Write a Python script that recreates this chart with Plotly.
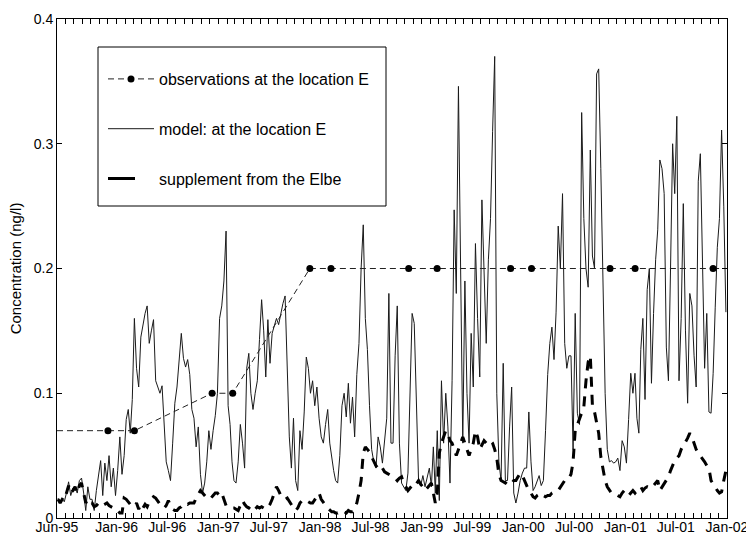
import pandas as pd
import plotly.graph_objects as go

# ---------------- data (ng/l) ----------------
# model at location E: 4 values per month (quarter-month steps), starting Jun-95
model_1995 = [0.016, 0.012, 0.015, 0.013, 0.02, 0.029, 0.018, 0.024, 0.025, 0.02, 0.03, 0.032,
              0.02, 0.006, 0.025, 0.015, 0.015, 0.006, 0.022, 0.035, 0.046, 0.018, 0.044, 0.03,
              0.05, 0.025, 0.04, 0.018]
model_1996 = [0.038, 0.065, 0.035, 0.05, 0.079, 0.087, 0.068, 0.095, 0.16, 0.12, 0.105, 0.145,
              0.155, 0.164, 0.17, 0.14, 0.15, 0.159, 0.11, 0.105, 0.1, 0.106, 0.07, 0.045,
              0.038, 0.03, 0.06, 0.092, 0.105, 0.124, 0.148, 0.128, 0.121, 0.127, 0.115, 0.087,
              0.08, 0.057, 0.073, 0.035, 0.02, 0.028, 0.045, 0.07, 0.055, 0.07, 0.082, 0.1]
model_1997 = [0.16, 0.17, 0.19, 0.23, 0.09, 0.075, 0.045, 0.03, 0.028, 0.045, 0.075, 0.06,
              0.04, 0.12, 0.132, 0.1, 0.087, 0.1, 0.11, 0.143, 0.175, 0.15, 0.113, 0.159,
              0.124, 0.148, 0.155, 0.16, 0.155, 0.165, 0.172, 0.178, 0.12, 0.065, 0.04, 0.08,
              0.03, 0.022, 0.07, 0.055, 0.085, 0.129, 0.12, 0.1, 0.11, 0.09, 0.105, 0.08]
model_1998 = [0.065, 0.06, 0.075, 0.087, 0.06, 0.048, 0.038, 0.03, 0.028, 0.05, 0.09, 0.1,
              0.081, 0.108, 0.076, 0.097, 0.065, 0.115, 0.14, 0.2, 0.235, 0.16, 0.135, 0.09,
              0.055, 0.045, 0.04, 0.065, 0.057, 0.044, 0.06, 0.08, 0.18, 0.06, 0.06, 0.13,
              0.17, 0.06, 0.028, 0.025, 0.022, 0.036, 0.11, 0.164, 0.156, 0.09, 0.03, 0.026]
model_1999 = [0.034, 0.025, 0.033, 0.04, 0.025, 0.057, 0.02, 0.07, 0.014, 0.11, 0.06, 0.1,
              0.073, 0.028, 0.11, 0.247, 0.18, 0.346, 0.2, 0.06, 0.19, 0.1, 0.06, 0.148,
              0.105, 0.22, 0.16, 0.113, 0.255, 0.2, 0.14, 0.207, 0.24, 0.31, 0.37, 0.1,
              0.045, 0.03, 0.124, 0.03, 0.03, 0.073, 0.105, 0.02, 0.012, 0.02, 0.03, 0.036]
model_2000 = [0.04, 0.04, 0.085, 0.045, 0.022, 0.025, 0.03, 0.034, 0.026, 0.03, 0.07, 0.115,
              0.14, 0.153, 0.127, 0.165, 0.234, 0.2, 0.26, 0.14, 0.12, 0.13, 0.13, 0.055,
              0.164, 0.084, 0.075, 0.325, 0.24, 0.2, 0.185, 0.295, 0.21, 0.2, 0.356, 0.36,
              0.28, 0.2, 0.1, 0.055, 0.045, 0.046, 0.044, 0.045, 0.048, 0.038, 0.062, 0.057]
model_2001 = [0.044, 0.079, 0.116, 0.1, 0.116, 0.08, 0.068, 0.135, 0.16, 0.095, 0.183, 0.2,
              0.108, 0.164, 0.207, 0.231, 0.287, 0.28, 0.26, 0.137, 0.11, 0.2, 0.3, 0.26,
              0.322, 0.11, 0.16, 0.252, 0.15, 0.092, 0.18, 0.17, 0.13, 0.105, 0.27, 0.292,
              0.2, 0.12, 0.164, 0.085, 0.084, 0.116, 0.169, 0.217, 0.24, 0.311, 0.25, 0.165]

# supplement from the Elbe: same quarter-month steps
supp_1995 = [0.015, 0.012, 0.015, 0.014, 0.02, 0.026, 0.02, 0.022, 0.025, 0.02, 0.026, 0.028,
             0.02, 0.012, 0.015, 0.012, 0.012, 0.009, 0.01, 0.012, 0.012, 0.01, 0.011, 0.012,
             0.01, 0.009, 0.008, 0.008]
supp_1996 = [0.006, 0.004, 0.004, 0.016, 0.015, 0.013, 0.011, 0.01, 0.009, 0.012, 0.007, 0.011,
             0.008, 0.011, 0.009, 0.013, 0.015, 0.017, 0.016, 0.013, 0.011, 0.009, 0.008, 0.01,
             0.014, 0.01, 0.007, 0.006, 0.006, 0.008, 0.009, 0.011, 0.012, 0.011, 0.012, 0.012,
             0.012, 0.016, 0.019, 0.022, 0.02, 0.018, 0.016, 0.015, 0.016, 0.018, 0.02, 0.02]
supp_1997 = [0.018, 0.02, 0.014, 0.01, 0.01, 0.009, 0.008, 0.008, 0.007, 0.006, 0.01, 0.014,
             0.011, 0.009, 0.008, 0.01, 0.009, 0.007, 0.009, 0.008, 0.009, 0.008, 0.007, 0.009,
             0.011, 0.015, 0.02, 0.025, 0.022, 0.018, 0.016, 0.015, 0.016, 0.013, 0.01, 0.008,
             0.006, 0.008, 0.012, 0.014, 0.015, 0.014, 0.013, 0.012, 0.012, 0.015, 0.018, 0.02]
supp_1998 = [0.015, 0.012, 0.01, 0.008, 0.006, 0.005, 0.005, 0.004, 0.004, 0.005, 0.004, 0.005,
             0.004, 0.006, 0.005, 0.005, 0.008, 0.012, 0.02, 0.03, 0.052, 0.057, 0.055, 0.053,
             0.049, 0.045, 0.042, 0.04, 0.038, 0.04, 0.037, 0.036, 0.035, 0.034, 0.033, 0.032,
             0.03, 0.032, 0.033, 0.028, 0.025, 0.022, 0.024, 0.026, 0.025, 0.028, 0.03, 0.027]
supp_1999 = [0.025, 0.022, 0.024, 0.026, 0.028, 0.02, 0.012, 0.02, 0.052, 0.06, 0.065, 0.07,
             0.068, 0.062, 0.06, 0.055, 0.05, 0.055, 0.06, 0.065, 0.06, 0.055, 0.05, 0.055,
             0.06, 0.07, 0.065, 0.055, 0.058, 0.062, 0.06, 0.062, 0.062, 0.06, 0.055, 0.048,
             0.035, 0.03, 0.029, 0.028, 0.03, 0.029, 0.028, 0.03, 0.03, 0.033, 0.036, 0.034]
supp_2000 = [0.03, 0.025, 0.022, 0.02, 0.017, 0.016, 0.018, 0.019, 0.02, 0.018, 0.017, 0.018,
             0.018, 0.02, 0.021, 0.022, 0.022, 0.025, 0.027, 0.03, 0.03, 0.032, 0.035, 0.045,
             0.07, 0.075, 0.08, 0.085, 0.089, 0.11, 0.125, 0.13, 0.09, 0.085, 0.075, 0.068,
             0.049, 0.04, 0.03, 0.025, 0.022, 0.02, 0.02, 0.019, 0.018, 0.017, 0.02, 0.022]
supp_2001 = [0.02, 0.018, 0.02, 0.022, 0.02, 0.022, 0.023, 0.025, 0.022, 0.024, 0.025, 0.024,
             0.024, 0.026, 0.028, 0.03, 0.022, 0.025, 0.028, 0.03, 0.033, 0.038, 0.042, 0.046,
             0.048, 0.05, 0.055, 0.058, 0.06, 0.064, 0.068, 0.065, 0.06, 0.055, 0.052, 0.05,
             0.048, 0.045, 0.042, 0.04, 0.03, 0.027, 0.024, 0.022, 0.02, 0.021, 0.03, 0.038]

# observations at location E
obs_dates = ["1995-12-01", "1996-03-05", "1996-12-09", "1997-02-21", "1997-11-25",
             "1998-02-09", "1998-11-15", "1999-02-25", "1999-11-16", "2000-01-30",
             "2000-11-07", "2001-02-05", "2001-11-12"]
obs_values = [0.07, 0.07, 0.1, 0.1, 0.2, 0.2, 0.2, 0.2, 0.2, 0.2, 0.2, 0.2, 0.2]
obs_lead = (["1995-06-01", "1995-12-01"], [0.07, 0.07])
obs_tail = (["2001-11-12", "2002-01-01"], [0.2, 0.2])

tick_dates = ["1995-06-01", "1996-01-01", "1996-07-01", "1997-01-01", "1997-07-01",
              "1998-01-01", "1998-07-01", "1999-01-01", "1999-07-01", "2000-01-01",
              "2000-07-01", "2001-01-01", "2001-07-01", "2002-01-01"]
tick_labels = ["Jun-95", "Jan-96", "Jul-96", "Jan-97", "Jul-97", "Jan-98", "Jul-98",
               "Jan-99", "Jul-99", "Jan-00", "Jul-00", "Jan-01", "Jul-01", "Jan-02"]
y_ticks = [0, 0.1, 0.2, 0.3, 0.4]
y_labels = ["0", "0.1", "0.2", "0.3", "0.4"]


def quarter_month_dates(start, n):
    base = pd.Timestamp(start)
    out = []
    for i in range(n):
        k, j = divmod(i, 4)
        m0 = base + pd.DateOffset(months=k)
        dim = ((m0 + pd.DateOffset(months=1)) - m0).days
        out.append(m0 + pd.Timedelta(days=(j + 0.5) * dim / 4))
    return out


model = model_1995 + model_1996 + model_1997 + model_1998 + model_1999 + model_2000 + model_2001
supp = supp_1995 + supp_1996 + supp_1997 + supp_1998 + supp_1999 + supp_2000 + supp_2001
t_model = quarter_month_dates("1995-06-01", len(model))
t_supp = quarter_month_dates("1995-06-01", len(supp))

FONT = "Arial, Liberation Sans, sans-serif"
W, H = 746, 536
ML, MR, MT, MB = 57, 19, 19, 18

fig = go.Figure()

fig.add_trace(go.Scatter(x=t_model, y=model, mode="lines", name="model: at the location E",
                         line=dict(color="#1a1a1a", width=1), legendrank=2))
fig.add_trace(go.Scatter(x=t_supp, y=supp, mode="lines", showlegend=False,
                         line=dict(color="black", width=3, dash="10px,8px")))
fig.add_trace(go.Scatter(x=[None], y=[None], mode="lines", name="supplement from the Elbe",
                         line=dict(color="black", width=3, dash="27px,40px"), legendrank=3))
fig.add_trace(go.Scatter(x=obs_lead[0], y=obs_lead[1], mode="lines", showlegend=False,
                         line=dict(color="#222", width=1, dash="6px,4px")))
fig.add_trace(go.Scatter(x=obs_tail[0], y=obs_tail[1], mode="lines", showlegend=False,
                         line=dict(color="#222", width=1, dash="6px,4px")))
fig.add_trace(go.Scatter(x=obs_dates, y=obs_values, mode="lines+markers",
                         name="observations at the location E", legendrank=1,
                         line=dict(color="#222", width=1, dash="6px,4px"),
                         marker=dict(color="black", size=7)))

pw = W - ML - MR
ph = H - MT - MB


def px(x):
    return (x - ML) / pw


def py(y):
    return (H - MB - y) / ph


fig.add_shape(type="rect", xref="paper", yref="paper", x0=px(98), x1=px(386), y0=py(206), y1=py(47),
              line=dict(color="black", width=1), fillcolor="white", layer="above")

axis_common = dict(showline=True, linecolor="black", linewidth=1, mirror="ticks",
                   ticks="inside", ticklen=5, tickcolor="black", showgrid=False, zeroline=False,
                   tickfont=dict(family=FONT, size=14, color="black"))

fig.update_layout(
    width=W, height=H,
    margin=dict(l=ML, r=MR, t=MT, b=MB, autoexpand=False),
    paper_bgcolor="white", plot_bgcolor="white",
    font=dict(family=FONT, size=14, color="black"),
    showlegend=True,
    legend=dict(x=px(103), y=py(62), xanchor="left", yanchor="top",
                bgcolor="rgba(0,0,0,0)", borderwidth=0,
                traceorder="grouped", tracegroupgap=26, itemwidth=46,
                font=dict(family=FONT, size=16, color="black")),
    xaxis=dict(type="date", range=["1995-06-01", "2002-01-01"],
               tickmode="array", tickvals=tick_dates, ticktext=tick_labels,
               ticklabeloverflow="allow", ticklabelstandoff=-4,
               minor=dict(tickmode="linear", tick0="1995-06-01", dtick="M1",
                          ticks="inside", ticklen=5, tickcolor="black", showgrid=False),
               automargin=False, **axis_common),
    yaxis=dict(range=[0, 0.4], tickmode="array", tickvals=y_ticks, ticktext=y_labels,
               title=dict(text="Concentration (ng/l)", font=dict(family=FONT, size=15), standoff=8),
               automargin=False, **axis_common),
)

# one legend group per entry so that tracegroupgap spaces them like the reference
for tr in fig.data:
    if tr.showlegend is not False and tr.name:
        tr.legendgroup = tr.name

fig.write_html("out.html")
